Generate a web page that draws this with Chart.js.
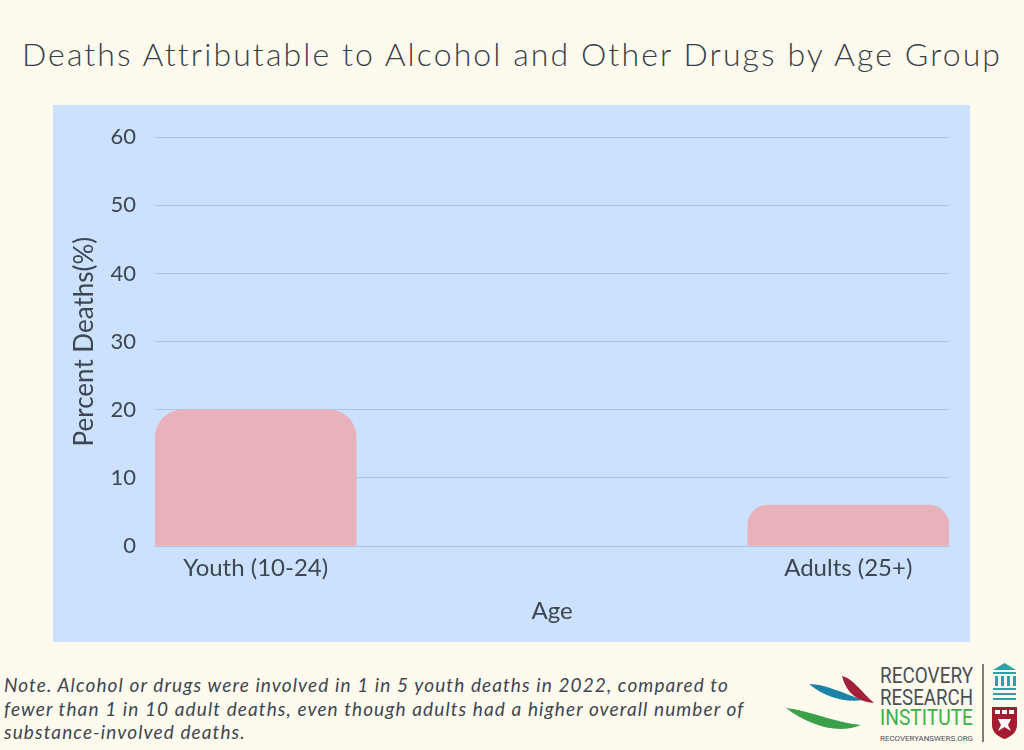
<!DOCTYPE html>
<html>
<head>
<meta charset="utf-8">
<script src="https://cdn.jsdelivr.net/npm/chart.js@4/dist/chart.umd.min.js"></script>
<style>
  html, body { margin: 0; padding: 0; }
  body { width: 1024px; height: 750px; background: #fffaee; position: relative; overflow: hidden; font-family: Lato, sans-serif; color: #3d4651; }
  #title { position: absolute; top: 34px; left: 0; width: 1024px; text-align: center; font-size: 32px; font-weight: 300; line-height: 40px; letter-spacing: 2.1px; color: #363f49; }
  #box { position: absolute; left: 53px; top: 105px; width: 917px; height: 537px; background: #cce1fd; }
  #note { position: absolute; left: 4px; top: 673px; font-style: italic; font-size: 19px; line-height: 23.5px; letter-spacing: 1.1px; }
  #logo { position: absolute; left: 780px; top: 655px; }
</style>
</head>
<body>
<div id="title">Deaths Attributable to Alcohol and Other Drugs by Age Group</div>
<div id="box"><canvas id="chart" width="917" height="537"></canvas></div>
<div id="note">Note. Alcohol or drugs were involved in 1 in 5 youth deaths in 2022, compared to<br>fewer than 1 in 10 adult deaths, even though adults had a higher overall number of<br>substance-involved deaths.</div>
<svg id="logo" width="244" height="95" viewBox="0 0 244 95">
  <path d="M29 29 C46 29 62 38 83 45 C66 48 44 42 29 29 Z" fill="#1b83a8"/>
  <path d="M62 21 C74 24 82 38 94 48 C78 47 66 38 62 21 Z" fill="#a3203a"/>
  <path d="M6 53 C28 55 56 68 81 70 C58 80 28 70 6 53 Z" fill="#3aa14a"/>
  <text x="100" y="28" font-family="Roboto, sans-serif" font-size="22" fill="#4a4f55" textLength="93" lengthAdjust="spacingAndGlyphs">RECOVERY</text>
  <text x="100" y="50" font-family="Roboto, sans-serif" font-size="22" fill="#4a4f55" textLength="93" lengthAdjust="spacingAndGlyphs">RESEARCH</text>
  <text x="100" y="70" font-family="Roboto, sans-serif" font-size="22" fill="#3fae49" textLength="93" lengthAdjust="spacingAndGlyphs">INSTITUTE</text>
  <text x="100" y="86" font-family="Roboto, sans-serif" font-size="8" fill="#4a4f55" textLength="93" lengthAdjust="spacingAndGlyphs">RECOVERYANSWERS.ORG</text>
  <line x1="203" y1="9" x2="203" y2="87" stroke="#555" stroke-width="1.5"/>
  <g fill="#2aa3a8">
    <polygon points="213,15 224.5,8 236,15"/>
    <rect x="213" y="17" width="23" height="2"/>
    <rect x="215" y="21" width="3" height="10"/>
    <rect x="221" y="21" width="3" height="10"/>
    <rect x="227" y="21" width="3" height="10"/>
    <rect x="233" y="21" width="3" height="10"/>
    <rect x="213" y="33" width="23" height="2"/>
    <rect x="213" y="38" width="23" height="2"/>
    <rect x="213" y="43" width="23" height="2"/>
  </g>
  <path d="M212 52 H237 V70 C237 78 230 82 224.5 84 C219 82 212 78 212 70 Z" fill="#a51c30"/>
  <rect x="215" y="55" width="5" height="4" fill="#fff"/>
  <rect x="222" y="55" width="5" height="4" fill="#fff"/>
  <rect x="229" y="55" width="5" height="4" fill="#fff"/>
  <path d="M218 64 L231 64 L228 70 L231 76 L224.5 72 L218 76 L221 70 Z" fill="#fff"/>
</svg>
<script>
// datos
const categories = ['Youth (10-24)', 'Adults (25+)'];
const percentDeaths = [20, 6];
const yTicks = [0, 10, 20, 30, 40, 50, 60];

const textColor = '#3d4651';
const points = categories.map((c, i) => ({ x: i, y: percentDeaths[i] }));

new Chart(document.getElementById('chart'), {
    type: 'bar',
    data: {
        datasets: [{
            data: points,
            backgroundColor: '#e9b1ba',
            borderRadius: { topLeft: 28, topRight: 28 },
            borderSkipped: 'bottom',
            barThickness: 201
        }]
    },
    options: {
        responsive: false,
        animation: false,
        layout: { padding: { left: 10, right: 21, top: 30, bottom: 0 } },
        plugins: {
            legend: { display: false },
            tooltip: { enabled: false }
        },
        scales: {
            x: {
                type: 'linear',
                min: -0.17,
                max: 1.17,
                bounds: 'data',
                offset: false,
                grid: { display: false, offset: false },
                border: { display: false },
                afterBuildTicks: (scale) => {
                    scale.ticks = categories.map((c, i) => ({ value: i }));
                },
                afterFit: (scale) => { scale.height = 96; },
                ticks: {
                    stepSize: 1,
                    autoSkip: false,
                    maxRotation: 0,
                    padding: 0,
                    color: textColor,
                    font: { family: 'Lato', size: 24 },
                    callback: (value) => categories[value] || ''
                },
                title: {
                    display: true,
                    text: 'Age',
                    color: textColor,
                    font: { family: 'Lato', size: 24 },
                    padding: { top: 0, bottom: 16 }
                }
            },
            y: {
                min: yTicks[0],
                max: yTicks[yTicks.length - 1],
                grid: { color: '#aec3e3', drawTicks: false },
                border: { display: false },
                afterBuildTicks: (scale) => {
                    scale.ticks = yTicks.map(v => ({ value: v }));
                },
                afterFit: (scale) => { scale.width = 92; },
                ticks: {
                    padding: 19,
                    color: textColor,
                    font: { family: 'Lato', size: 22 }
                },
                title: {
                    display: true,
                    text: 'Percent Deaths(%)',
                    color: textColor,
                    font: { family: 'Lato', size: 26 },
                    padding: { top: 6, bottom: 0 }
                }
            }
        }
    }
});
</script>
</body>
</html>
